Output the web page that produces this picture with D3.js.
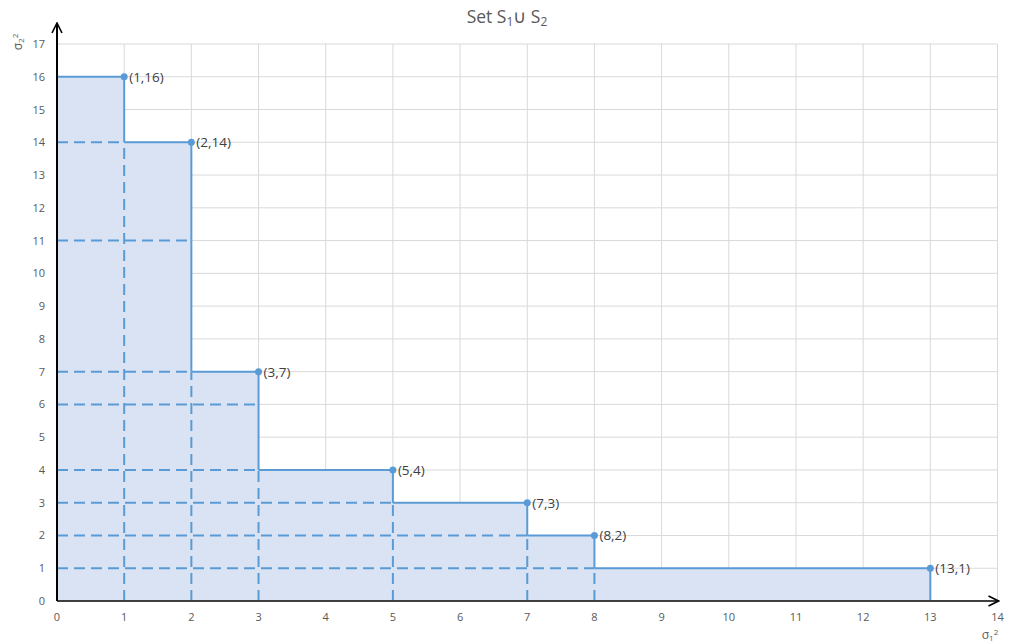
<!DOCTYPE html>
<html><head><meta charset="utf-8">
<script src="https://cdn.jsdelivr.net/npm/d3@7"></script>
<style>body{margin:0;background:#fff}svg{display:block}</style>
</head><body>
<script>
const pointsX = [1, 2, 3, 5, 7, 8, 13];
const pointsY = [16, 14, 7, 4, 3, 2, 1];
const pointLabels = ["(1,16)", "(2,14)", "(3,7)", "(5,4)", "(7,3)", "(8,2)", "(13,1)"];
// horizontal dashed guides: y value and x end
const dashHY = [14, 11, 7, 6, 4, 3, 2, 1];
const dashHX = [1, 2, 2, 3, 3, 5, 7, 8];
// vertical dashed guides: x value and y end
const dashVX = [1, 2, 3, 5, 7, 8];
const dashVY = [14, 7, 4, 3, 2, 1];
const xTicks = d3.range(0, 15);
const yTicks = d3.range(0, 18);

const W = 1009, H = 643;
const svg = d3.select("body").append("svg").attr("width", W).attr("height", H);
const x = d3.scaleLinear().domain([0, 14]).range([57, 997.5]);
const y = d3.scaleLinear().domain([0, 17]).range([601, 44]);
const font = "'Open Sans','Noto Sans',sans-serif";
const blue = "#5b9bd5";

// grid
const g = svg.append("g");
g.selectAll(".gh").data(yTicks.slice(1)).join("line")
  .attr("x1", x(0)).attr("x2", x(14)).attr("y1", d => y(d)).attr("y2", d => y(d))
  .attr("stroke", "#d9d9d9").attr("stroke-width", 1);
g.selectAll(".gv").data(xTicks.slice(1)).join("line")
  .attr("x1", d => x(d)).attr("x2", d => x(d)).attr("y1", y(0)).attr("y2", y(17))
  .attr("stroke", "#d9d9d9").attr("stroke-width", 1);

// step area
const stepPts = [[0, pointsY[0]]];
pointsX.forEach((px, i) => {
  stepPts.push([px, pointsY[i]]);
  stepPts.push([px, i + 1 < pointsY.length ? pointsY[i + 1] : 0]);
});
const areaPts = stepPts.concat([[0, 0]]);
svg.append("path")
  .attr("d", d3.line().x(d => x(d[0])).y(d => y(d[1]))(areaPts) + "Z")
  .attr("fill", "#dae3f3");

// dashed guides
const dash = "11,6";
svg.selectAll(".dh").data(dashHY).join("line")
  .attr("x1", x(0)).attr("x2", (d, i) => x(dashHX[i]))
  .attr("y1", d => y(d)).attr("y2", d => y(d))
  .attr("stroke", blue).attr("stroke-width", 2).attr("stroke-dasharray", dash);
svg.selectAll(".dv").data(dashVX).join("line")
  .attr("x1", d => x(d)).attr("x2", d => x(d))
  .attr("y1", y(0)).attr("y2", (d, i) => y(dashVY[i]))
  .attr("stroke", blue).attr("stroke-width", 2).attr("stroke-dasharray", dash);

// step outline: solid segments from each point
const solid = [];
pointsX.forEach((px, i) => {
  const prevX = i === 0 ? 0 : pointsX[i - 1];
  solid.push([[prevX, pointsY[i]], [px, pointsY[i]]]);
  const nextY = i + 1 < pointsY.length ? pointsY[i + 1] : 0;
  solid.push([[px, pointsY[i]], [px, nextY]]);
});
svg.selectAll(".sl").data(solid).join("line")
  .attr("x1", d => x(d[0][0])).attr("y1", d => y(d[0][1]))
  .attr("x2", d => x(d[1][0])).attr("y2", d => y(d[1][1]))
  .attr("stroke", blue).attr("stroke-width", 2);

// points
svg.selectAll(".pt").data(pointsX).join("circle")
  .attr("cx", d => x(d)).attr("cy", (d, i) => y(pointsY[i])).attr("r", 3.5)
  .attr("fill", blue);
svg.selectAll(".pl").data(pointsX).join("text")
  .attr("x", d => x(d) + 5).attr("y", (d, i) => y(pointsY[i]) + 5)
  .attr("font-family", font).attr("font-size", 13.5).attr("fill", "#404040")
  .text((d, i) => pointLabels[i]);

// axes
const defs = svg.append("defs");
defs.append("marker").attr("id", "arr").attr("viewBox", "0 0 12 12")
  .attr("refX", 11).attr("refY", 6).attr("markerWidth", 12).attr("markerHeight", 12)
  .attr("markerUnits", "userSpaceOnUse").attr("orient", "auto")
  .append("path").attr("d", "M1,1 L11,6 L1,11").attr("fill", "none")
  .attr("stroke", "#000").attr("stroke-width", 1.6);
svg.append("line").attr("x1", x(0)).attr("x2", x(14) + 1).attr("y1", y(0)).attr("y2", y(0))
  .attr("stroke", "#404040").attr("stroke-width", 1.8).attr("marker-end", "url(#arr)");
svg.append("line").attr("x1", x(0)).attr("x2", x(0)).attr("y1", y(0)).attr("y2", 23)
  .attr("stroke", "#000").attr("stroke-width", 2).attr("marker-end", "url(#arr)");

// tick labels
svg.selectAll(".xt").data(xTicks).join("text")
  .attr("x", d => x(d)).attr("y", 621).attr("text-anchor", "middle")
  .attr("font-family", font).attr("font-size", 11).attr("fill", "#595959")
  .text(d => d);
svg.selectAll(".yt").data(yTicks).join("text")
  .attr("x", 45).attr("y", d => y(d) + 4).attr("text-anchor", "end")
  .attr("font-family", font).attr("font-size", 11).attr("fill", "#595959")
  .text(d => d);

// axis titles
const xl = svg.append("text").attr("x", 990).attr("y", 639)
  .attr("font-family", font).attr("font-size", 12).attr("fill", "#595959").attr("text-anchor", "middle");
xl.append("tspan").text("σ");
xl.append("tspan").attr("font-size", 8).attr("dy", 2).text("1");
xl.append("tspan").attr("font-size", 8).attr("dy", -6).text("2");
const yl = svg.append("text").attr("transform", "translate(22,42) rotate(-90)")
  .attr("font-family", font).attr("font-size", 12).attr("fill", "#595959").attr("text-anchor", "middle");
yl.append("tspan").text("σ");
yl.append("tspan").attr("font-size", 8).attr("dy", 2).text("2");
yl.append("tspan").attr("font-size", 8).attr("dy", -6).text("2");

// title
const t = svg.append("text").attr("x", 507).attr("y", 23).attr("text-anchor", "middle")
  .attr("font-family", font).attr("font-size", 17.5).attr("fill", "#595959");
t.append("tspan").text("Set S");
t.append("tspan").attr("font-size", 12).attr("dy", 3).text("1");
t.append("tspan").attr("dy", -3).text("∪ S");
t.append("tspan").attr("font-size", 12).attr("dy", 3).text("2");
</script>
</body></html>
